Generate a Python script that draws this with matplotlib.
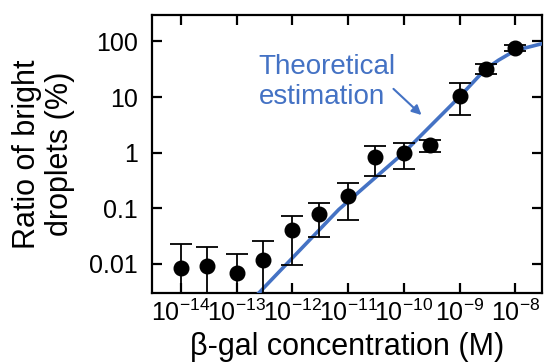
import matplotlib
matplotlib.use('Agg')
import matplotlib.pyplot as plt
import numpy as np

plt.rcParams['font.family'] = ['Liberation Sans', 'DejaVu Sans']
plt.rcParams['mathtext.fontset'] = 'custom'
plt.rcParams['mathtext.rm'] = 'Liberation Sans'
plt.rcParams['mathtext.it'] = 'Liberation Sans:italic'

# measured data
conc = [1e-14, 3e-14, 1e-13, 3e-13, 1e-12, 3e-12, 1e-11, 3e-11, 1e-10, 3e-10, 1e-9, 3e-9, 1e-8]
ratio = [0.0085, 0.0093, 0.007, 0.0118, 0.041, 0.078, 0.17, 0.84, 0.99, 1.39, 10.5, 31.6, 77]
err_hi = [0.0225, 0.020, 0.0151, 0.026, 0.073, 0.123, 0.288, 1.30, 1.49, 1.66, 17.6, 38.9, 88]
err_lo = [1e-4, 1e-4, 1e-4, 1e-4, 0.0096, 0.031, 0.061, 0.38, 0.51, 1.01, 4.8, 26.5, 66]

# theoretical curve
theo_conc = [2.5e-13, 6.8e-12, 1e-10, 1e-9, 2.9e-9, 5e-9, 1e-8, 3e-8]
theo_ratio = [0.003, 0.095, 1.0, 10.1, 31.6, 46, 69, 91]

xticks = [1e-14, 1e-13, 1e-12, 1e-11, 1e-10, 1e-9, 1e-8]
xticklabels = [r'$\mathregular{10^{-14}}$', r'$\mathregular{10^{-13}}$', r'$\mathregular{10^{-12}}$',
               r'$\mathregular{10^{-11}}$', r'$\mathregular{10^{-10}}$', r'$\mathregular{10^{-9}}$',
               r'$\mathregular{10^{-8}}$']
yticks = [0.01, 0.1, 1, 10, 100]
yticklabels = ['0.01', '0.1', '1', '10', '100']

blue = '#4472C4'

fig = plt.figure(figsize=(5.44, 3.64), dpi=100)
ax = fig.add_axes([0.279, 0.195, 0.717, 0.764])

ax.plot(theo_conc, theo_ratio, color=blue, lw=2.6, zorder=3)

r = np.array(ratio)
yerr = [r - np.array(err_lo), np.array(err_hi) - r]
ax.errorbar(conc, ratio, yerr=yerr, fmt='o', color='black', ms=10.5, elinewidth=1.3,
            capsize=8, capthick=1.3, zorder=4)

ax.set_xscale('log')
ax.set_yscale('log')
ax.set_xlim(3e-15, 3e-8)
ax.set_ylim(0.003, 300)
ax.set_xticks(xticks)
ax.set_xticklabels(xticklabels)
ax.set_yticks(yticks)
ax.set_yticklabels(yticklabels)
ax.minorticks_off()
ax.tick_params(which='major', direction='in', length=7, width=1.6, top=True, right=True,
               labelsize=18)
ax.tick_params(axis='x', pad=5)
ax.tick_params(axis='y', pad=10)
for s in ax.spines.values():
    s.set_linewidth(1.6)

ax.set_xlabel(r'β-gal concentration (M)', fontsize=22, labelpad=4)
ax.set_ylabel('Ratio of bright\ndroplets (%)', fontsize=22, labelpad=10, linespacing=1.15)

ax.text(2.5e-13, 60, 'Theoretical\nestimation', color=blue, fontsize=20, ha='left', va='top',
        linespacing=1.2)
ax.annotate('', xy=(2.26e-10, 4.4), xytext=(6.0e-11, 15.2),
            arrowprops=dict(arrowstyle='-|>', color=blue, lw=1.5, mutation_scale=14))

fig.savefig('out.png', dpi=100)
